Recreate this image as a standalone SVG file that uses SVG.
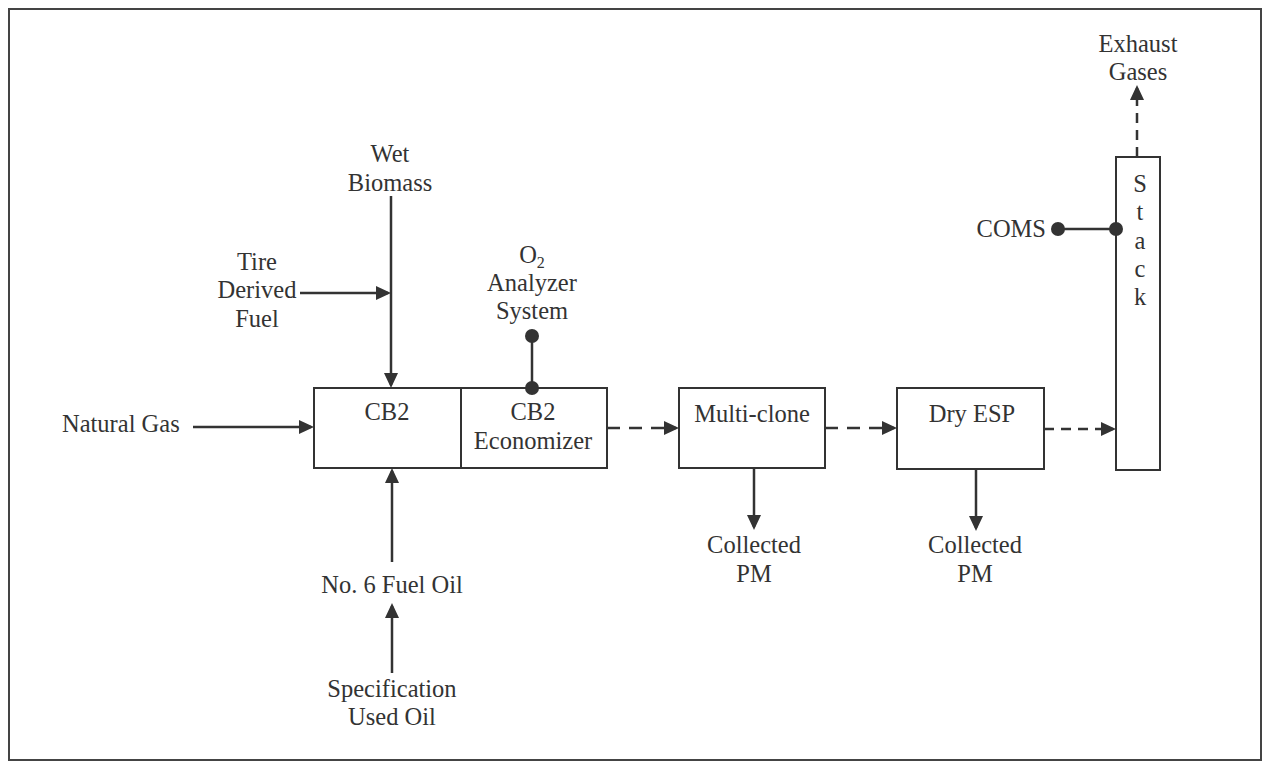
<svg xmlns="http://www.w3.org/2000/svg" width="1263" height="764" viewBox="0 0 1263 764">
<style>
text{font-family:"Liberation Serif","Times New Roman",serif;font-size:24.5px;fill:#333;text-anchor:middle}
.box{fill:#fff;stroke:#333;stroke-width:2}
.ln{fill:none;stroke:#333;stroke-width:2.5}
.sol{marker-end:url(#ah)}
.dash{stroke-dasharray:13 9;marker-end:url(#ah)}
.dash2{stroke-dasharray:10 7;marker-end:url(#ah)}
.dot{fill:#333}
</style>
<defs>
<marker id="ah" markerUnits="userSpaceOnUse" markerWidth="18" markerHeight="16" refX="12" refY="7" orient="auto">
<path d="M0,0 L15,7 L0,14 z" fill="#333"/>
</marker>
</defs>
<rect x="0" y="0" width="1263" height="764" fill="#fff"/>
<rect x="9" y="9" width="1252" height="751" fill="none" stroke="#444" stroke-width="2"/>

<g id="cb2">
<rect class="box" x="314" y="388" width="147" height="80"/>
<text x="387" y="420">CB2</text>
</g>
<g id="economizer">
<rect class="box" x="461" y="388" width="146" height="80"/>
<text x="533" y="420">CB2</text>
<text x="533" y="449">Economizer</text>
</g>
<g id="multiclone">
<rect class="box" x="679" y="388" width="146" height="80"/>
<text x="752" y="422">Multi-clone</text>
</g>
<g id="dryesp">
<rect class="box" x="897" y="388" width="147" height="81"/>
<text x="972" y="422">Dry ESP</text>
</g>
<g id="stack">
<rect class="box" x="1116" y="157" width="44" height="313"/>
<text x="1140" y="192">S</text>
<text x="1140" y="220">t</text>
<text x="1140" y="249">a</text>
<text x="1140" y="277">c</text>
<text x="1140" y="305">k</text>
</g>

<g id="natural-gas"><text x="62" y="432" style="text-anchor:start">Natural Gas</text></g>
<g id="wet-biomass"><text x="390" y="162">Wet</text><text x="390" y="191">Biomass</text></g>
<g id="tdf"><text x="257" y="270">Tire</text><text x="257" y="298">Derived</text><text x="257" y="327">Fuel</text></g>
<g id="o2"><text x="532" y="263">O<tspan font-size="16" dy="5">2</tspan></text><text x="532" y="291">Analyzer</text><text x="532" y="319">System</text></g>
<g id="fuel-oil"><text x="392" y="593">No. 6 Fuel Oil</text></g>
<g id="spec-oil"><text x="392" y="697">Specification</text><text x="392" y="725">Used Oil</text></g>
<g id="pm1"><text x="754" y="553">Collected</text><text x="754" y="582">PM</text></g>
<g id="pm2"><text x="975" y="553">Collected</text><text x="975" y="582">PM</text></g>
<g id="coms"><text x="1046" y="237" style="text-anchor:end">COMS</text></g>
<g id="exhaust"><text x="1138" y="52">Exhaust</text><text x="1138" y="80">Gases</text></g>

<g id="connectors">
<line class="ln sol" x1="193" y1="427" x2="311" y2="427"/>
<line class="ln sol" x1="391" y1="196" x2="391" y2="385"/>
<line class="ln sol" x1="300" y1="293" x2="388" y2="293"/>
<line class="ln sol" x1="392" y1="562" x2="392" y2="471"/>
<line class="ln sol" x1="392" y1="673" x2="392" y2="606"/>
<line class="ln" x1="532" y1="336" x2="532" y2="388"/>
<circle class="dot" cx="532" cy="336" r="7"/>
<circle class="dot" cx="532" cy="388" r="7"/>
<line class="ln dash" x1="607" y1="428" x2="676" y2="428"/>
<line class="ln dash" x1="825" y1="428" x2="894" y2="428"/>
<line class="ln dash2" x1="1044" y1="429" x2="1113" y2="429"/>
<line class="ln sol" x1="754" y1="468" x2="754" y2="527"/>
<line class="ln sol" x1="976" y1="469" x2="976" y2="528"/>
<line class="ln dash2" x1="1137" y1="157" x2="1137" y2="88"/>
<line class="ln" x1="1058" y1="229" x2="1116" y2="229"/>
<circle class="dot" cx="1058" cy="229" r="7"/>
<circle class="dot" cx="1116" cy="229" r="7"/>
</g>
</svg>
